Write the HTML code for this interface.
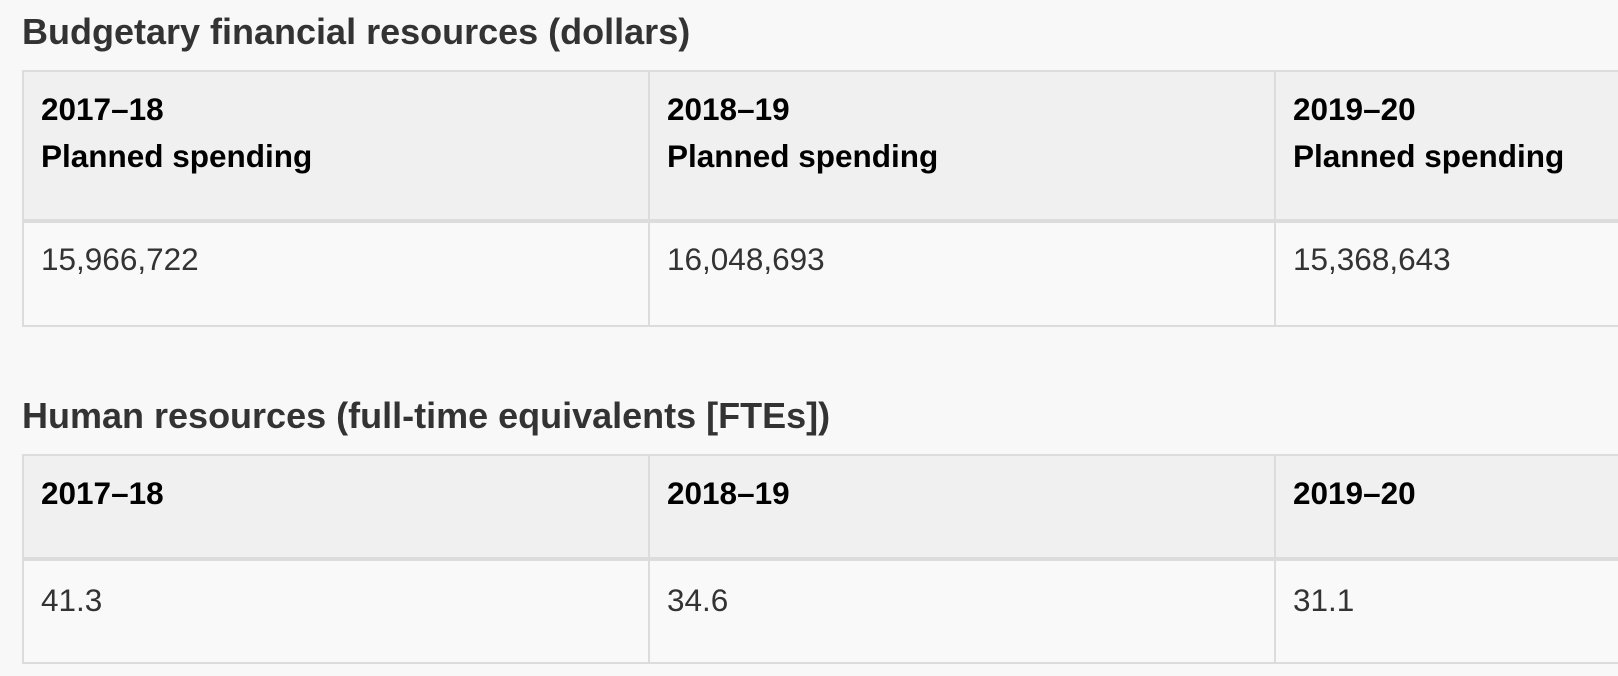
<!DOCTYPE html>
<html><head><style>
html,body{margin:0;padding:0;background:#f8f8f8;width:1618px;height:676px;overflow:hidden;font-family:"Liberation Sans",Arial,sans-serif;}
h2{position:absolute;left:22px;margin:0;font-size:36px;line-height:42px;font-weight:bold;color:#333;}
table{position:absolute;left:22px;border-collapse:collapse;width:1880px;table-layout:fixed;}
td,th{border:2px solid #dcdcdc;text-align:left;vertical-align:top;padding:14px 16px 0 17px;font-size:31.5px;}
th{background:#f0f0f0;color:#000;font-weight:bold;line-height:47px;border-bottom:4px solid #dcdcdc;}
td{background:#f9f9f9;color:#333;line-height:47px;padding-top:16px;}
</style></head><body>
<h2 style="top:11px">Budgetary financial resources (dollars)</h2>
<table style="top:70px">
<col style="width:626px"><col style="width:626px"><col>
<tr style="height:150px"><th>2017–18<br>Planned spending</th><th>2018–19<br>Planned spending</th><th>2019–20<br>Planned spending</th></tr>
<tr style="height:105px"><td style="padding-top:13px">15,966,722</td><td style="padding-top:13px">16,048,693</td><td style="padding-top:13px">15,368,643</td></tr>
</table>
<h2 style="top:395px">Human resources (full-time equivalents [FTEs])</h2>
<table style="top:454px">
<col style="width:626px"><col style="width:626px"><col>
<tr style="height:104px"><th>2017–18</th><th>2018–19</th><th>2019–20</th></tr>
<tr style="height:104px"><td>41.3</td><td>34.6</td><td>31.1</td></tr>
</table>
</body></html>
